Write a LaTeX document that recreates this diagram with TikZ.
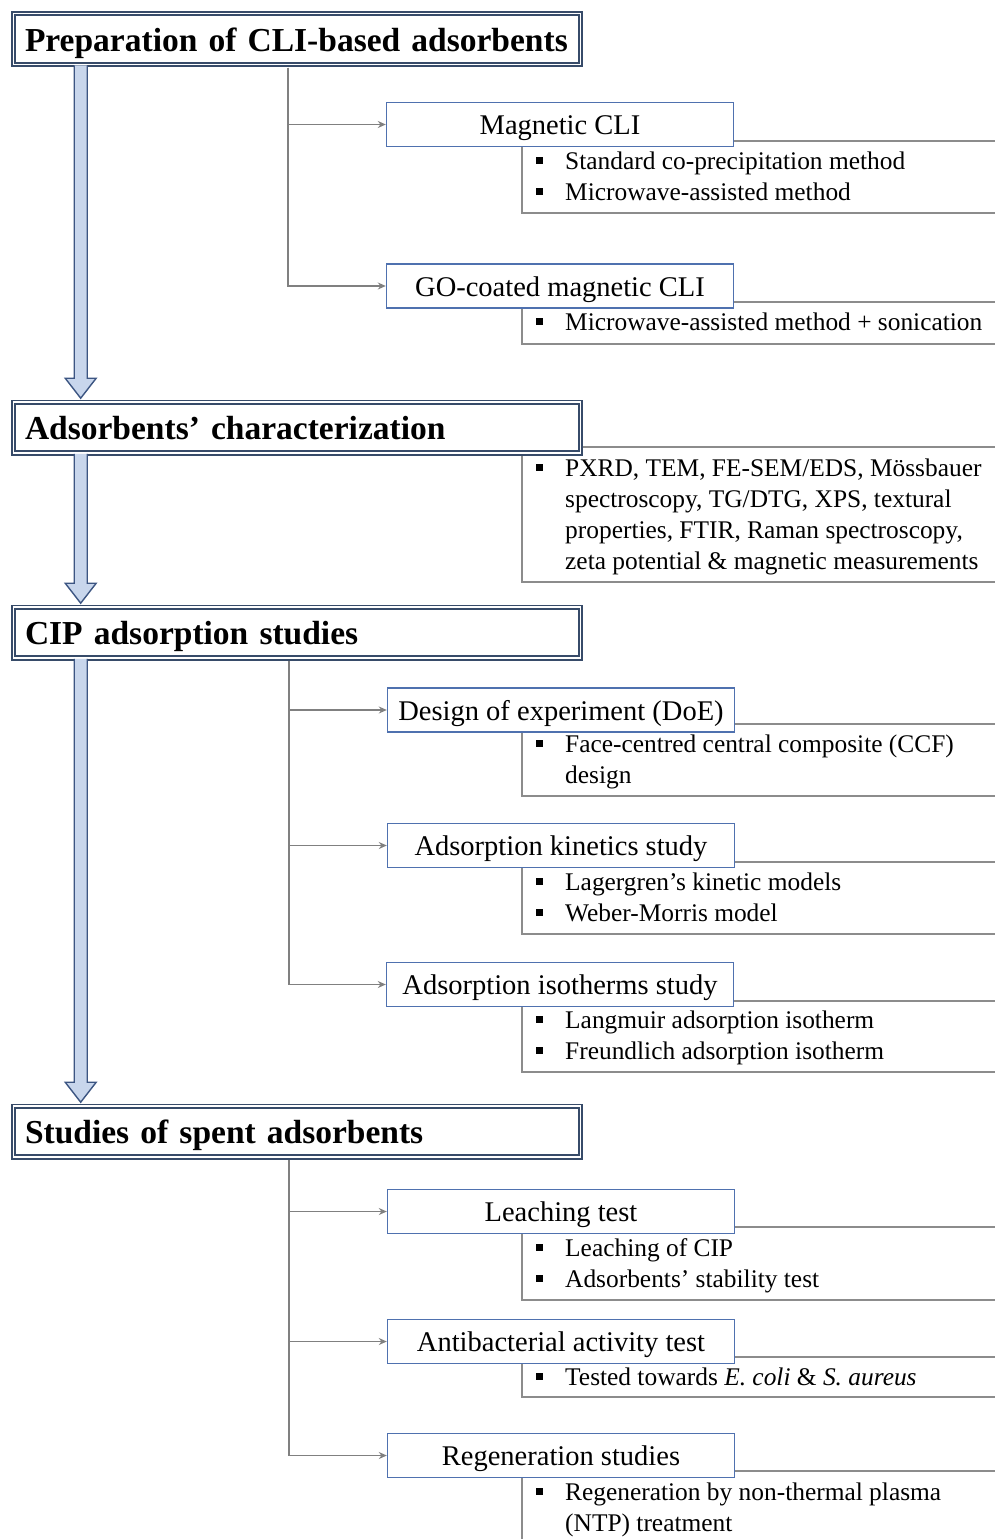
\documentclass[tikz,border=0pt]{standalone}
\usepackage{fontspec}
\setmainfont{Liberation Serif}
\usetikzlibrary{arrows.meta,calc}
\definecolor{mainline}{RGB}{55,75,105}
\definecolor{subline}{RGB}{79,113,175}
\definecolor{arrowfill}{RGB}{200,214,236}
\definecolor{arrowline}{RGB}{60,85,130}
\definecolor{frameline}{RGB}{140,140,140}
\definecolor{connline}{RGB}{128,128,128}
\tikzset{
  mainbox/.style={draw=mainline, double=white, double distance=1.6pt, line width=1.8pt,
    fill=white, text width=544pt, inner xsep=11.4pt, inner ysep=0pt, minimum height=50.8pt,
    align=left, font=\fontsize{33.5}{36}\selectfont\bfseries, text height=24pt, text depth=0pt},
  subbox/.style={draw=subline, line width=1.4pt, fill=white, minimum width=347pt,
    minimum height=44pt, inner sep=0pt, font=\fontsize{28.5}{30}\selectfont,
    text height=20pt, text depth=0pt},
  btext/.style={anchor=base west, inner sep=0pt, font=\fontsize{25.4}{31}\selectfont},
  bul/.style={fill=black, minimum size=7pt, inner sep=0pt},
  bframe/.style={draw=frameline, line width=1.3pt},
  conn/.style={draw=connline, line width=1.8pt, -{Stealth[length=8pt,width=7pt]}},
  bigarr/.style={fill=arrowfill, draw=arrowline, line width=1.4pt, line join=miter}
}
\newcommand\bitem[3]{\node[bul] (#1b) at (539,#2-8.5) {}; \node[btext] (#1) at (565,#2) {#3};}
\newcommand\bcont[3]{\node[btext] (#1) at (565,#2) {#3};}
\newcommand\bigarrow[2]{\path[bigarr] let \p1=($(#1.south west)+(68,0)$), \p2=($(#2.north west)+(68,-3)$) in
  (\x1-6.5pt,\y1) -- (\x1-6.5pt,\y2+20pt) -- (\x1-15.5pt,\y2+20pt) -- (\x1,\y2) --
  (\x1+15.5pt,\y2+20pt) -- (\x1+6.5pt,\y2+20pt) -- (\x1+6.5pt,\y1);}
\begin{document}
\begin{tikzpicture}[x=1pt,y=-1pt]
\useasboundingbox (0,0) rectangle (995,1539);
% bullet frames
\draw[bframe] (995,141) -| (522,213) -- (995,213);
\draw[bframe] (995,302) -| (522,344) -- (995,344);
\draw[bframe] (995,447) -| (522,582) -- (995,582);
\draw[bframe] (995,724) -| (522,796) -- (995,796);
\draw[bframe] (995,862) -| (522,934) -- (995,934);
\draw[bframe] (995,1001) -| (522,1072) -- (995,1072);
\draw[bframe] (995,1227) -| (522,1300) -- (995,1300);
\draw[bframe] (995,1357) -| (522,1397) -- (995,1397);
\draw[bframe] (995,1471) -| (522,1545);
% main boxes
\node[mainbox] (m1) at (297,39) {Preparation of CLI-based adsorbents};
\node[mainbox] (m2) at (297,427.5) {Adsorbents’ characterization};
\node[mainbox] (m3) at (297,632.5) {CIP adsorption studies};
\node[mainbox] (m4) at (297,1131.5) {Studies of spent adsorbents};
% sub boxes
\node[subbox] (s1) at (560,124.5) {Magnetic CLI};
\node[subbox] (s2) at (560,286) {GO-coated magnetic CLI};
\node[subbox] (s3) at (561,710) {Design of experiment (DoE)};
\node[subbox] (s4) at (561,845.5) {Adsorption kinetics study};
\node[subbox] (s5) at (560,984.5) {Adsorption isotherms study};
\node[subbox] (s6) at (561,1211.5) {Leaching test};
\node[subbox] (s7) at (561,1341.5) {Antibacterial activity test};
\node[subbox] (s8) at (561,1455.5) {Regeneration studies};
% bullet texts
\bitem{t1a}{169}{Standard co-precipitation method}
\bitem{t1b}{200}{Microwave-assisted method}
\bitem{t2a}{330}{Microwave-assisted method + sonication}
\bitem{t3a}{476}{PXRD, TEM, FE-SEM/EDS, Mössbauer}
\bcont{t3b}{507}{spectroscopy, TG/DTG, XPS, textural}
\bcont{t3c}{538}{properties, FTIR, Raman spectroscopy,}
\bcont{t3d}{569}{zeta potential \& magnetic measurements}
\bitem{t4a}{752}{Face-centred central composite (CCF)}
\bcont{t4b}{783}{design}
\bitem{t5a}{890}{Lagergren’s kinetic models}
\bitem{t5b}{921}{Weber-Morris model}
\bitem{t6a}{1028}{Langmuir adsorption isotherm}
\bitem{t6b}{1059}{Freundlich adsorption isotherm}
\bitem{t7a}{1256}{Leaching of CIP}
\bitem{t7b}{1287}{Adsorbents’ stability test}
\bitem{t8a}{1385}{Tested towards \textit{E. coli} \& \textit{S. aureus}}
\bitem{t9a}{1500}{Regeneration by non-thermal plasma}
\bcont{t9b}{1531}{(NTP) treatment}
% connectors
\draw[conn] ($(m1.south west)+(275,2.4)$) |- (s1.west);
\draw[conn] ($(m1.south west)+(275,2.4)$) |- (s2.west);
\draw[conn] ($(m3.south west)+(276,2.4)$) |- (s3.west);
\draw[conn] ($(m3.south west)+(276,2.4)$) |- (s4.west);
\draw[conn] ($(m3.south west)+(276,2.4)$) |- (s5.west);
\draw[conn] ($(m4.south west)+(276,2.4)$) |- (s6.west);
\draw[conn] ($(m4.south west)+(276,2.4)$) |- (s7.west);
\draw[conn] ($(m4.south west)+(276,2.4)$) |- (s8.west);
% big arrows
\bigarrow{m1}{m2}
\bigarrow{m2}{m3}
\bigarrow{m3}{m4}
\end{tikzpicture}
\end{document}
